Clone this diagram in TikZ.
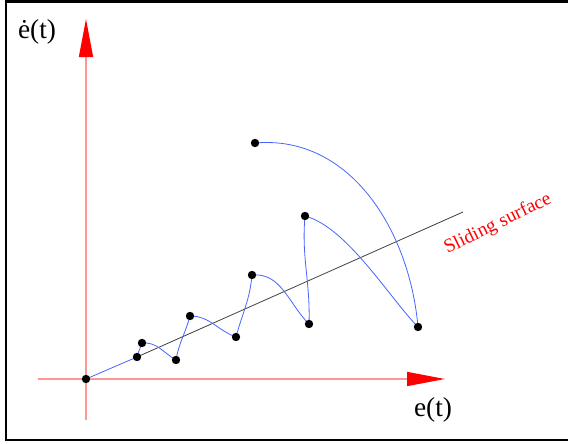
\documentclass[tikz,border=0pt]{standalone}
\usepackage{fontspec}
\setmainfont{Liberation Serif}
\usetikzlibrary{arrows.meta}
\pgfdeclarelayer{bg}
\pgfsetlayers{bg,main}
\definecolor{axispink}{RGB}{255,150,150}
\definecolor{trajblue}{RGB}{70,100,255}
\tikzset{
  axis/.style={draw=axispink, line width=1.1pt, -{Triangle[length=28.5pt,width=10.5pt,color=red]}},
  dot/.style={circle, fill=black, inner sep=0pt, minimum size=6.3pt},
  traj/.style={draw=trajblue, line width=0.6pt},
  surf/.style={draw=black!75, line width=0.6pt},
  lbl/.style={font=\fontsize{20.5}{24}\selectfont, inner sep=0pt},
  frame/.style={draw=black, line width=2pt}
}
\begin{document}
\begin{tikzpicture}[x=0.75pt, y=-0.75pt]
\useasboundingbox (0,0) rectangle (568,443);
\draw[frame] (570,1.5) -- (6,1.5) -- (6,440) -- (570,440);
% axes
\coordinate (xs) at (38,379);
\coordinate (xe) at (445,379);
\coordinate (ys) at (86,420);
\coordinate (ye) at (86,19);
\draw[axis] (xs) -- (xe);
\draw[axis] (ys) -- (ye);
\node[lbl] (ylab) at (37,32) {\.{e}(t)};
\node[lbl] (xlab) at (433,410) {e(t)};
% points
\node[dot] (O) at (86,379) {};
\node[dot] (p1) at (137,357) {};
\node[dot] (p2) at (142,343) {};
\node[dot] (p3) at (176,360) {};
\node[dot] (p4) at (190,316) {};
\node[dot] (p5) at (236,337) {};
\node[dot] (p6) at (252,275) {};
\node[dot] (p7) at (309,324) {};
\node[dot] (p8) at (305,216) {};
\node[dot] (p9) at (418,327) {};
\node[dot] (p10) at (255,143) {};
% sliding surface
\coordinate (se) at (463,212);
\node[rotate=26, text=red, font=\fontsize{14.5}{17}\selectfont, inner sep=0pt] (sl) at (498,224) {Sliding surface};
\begin{pgfonlayer}{bg}
\draw[surf] (p1.center) -- (se);
\draw[traj] (O.center) -- (p1.center)
  to[out=75,in=-110] (p2.center)
  to[out=5,in=150] (p3.center)
  to[out=80,in=-105] (p4.center)
  to[out=0,in=160] (p5.center)
  to[out=75,in=-95] (p6.center)
  to[out=5,in=135] (p7.center)
  to[out=88,in=-95] (p8.center)
  to[out=-15,in=134,looseness=0.7] (p9.center)
  to[out=95,in=5] (p10.center);
\end{pgfonlayer}
\end{tikzpicture}
\end{document}
